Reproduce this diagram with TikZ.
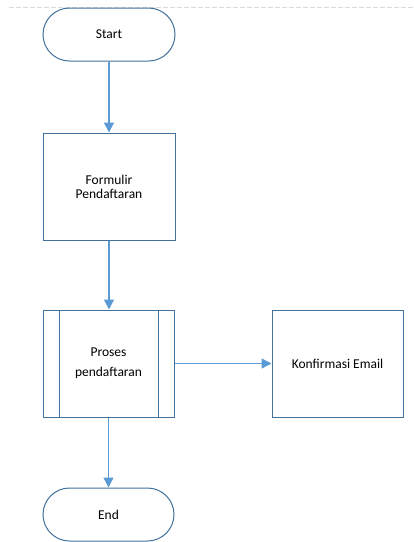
\documentclass[tikz,border=0pt]{standalone}
\usepackage{fontspec}
\setmainfont{Carlito}
\usetikzlibrary{arrows.meta,shapes.misc}
\definecolor{shapeedge}{HTML}{41719C}
\definecolor{flowline}{HTML}{5B9BD5}
\definecolor{pageedge}{HTML}{D9D9D9}
\tikzset{
  x=1pt,y=-1pt,
  termbox/.style={draw=shapeedge,line width=1pt,rounded rectangle,minimum width=132pt,minimum height=53pt,inner sep=0pt,font=\fontsize{13.5}{14}\selectfont},
  procbox/.style={draw=shapeedge,line width=1pt,rectangle,inner sep=0pt,align=center,font=\fontsize{13.5}{14}\selectfont},
  flow/.style={draw=flowline,line width=1.4pt,-{Triangle[width=10pt,length=10pt]}},
}
\begin{document}
\begin{tikzpicture}
\useasboundingbox (0,0) rectangle (414,542);
% page border
\draw[pageedge,line width=0.8pt,dash pattern=on 5pt off 2pt] (9,7.5) -- (414,7.5);
% shapes
\node[termbox] (start) at (109,34.5) {Start};
\node[procbox,minimum width=132pt,minimum height=107pt] (form) at (109,186.5) {Formulir\\Pendaftaran};
\node[procbox,minimum width=131pt,minimum height=107pt,font=\fontsize{13.5}{20}\selectfont] (proc) at (108.5,363.5) {Proses\\pendaftaran};
\draw[shapeedge,line width=1pt] ([xshift=17pt]proc.north west) -- ([xshift=17pt]proc.south west);
\draw[shapeedge,line width=1pt] ([xshift=-16pt]proc.north east) -- ([xshift=-16pt]proc.south east);
\node[procbox,minimum width=131pt,minimum height=107pt] (mail) at (337.5,363.5) {Konfirmasi Email};
\node[termbox,minimum width=131pt] (end) at (108.5,514.5) {End};
% connectors
\draw[flow] (start) -- (form);
\draw[flow] (form) -- (form|-proc.north);
\draw[flow] (proc) -- (mail);
\draw[flow] (proc) -- (proc|-end.north);
\end{tikzpicture}
\end{document}
